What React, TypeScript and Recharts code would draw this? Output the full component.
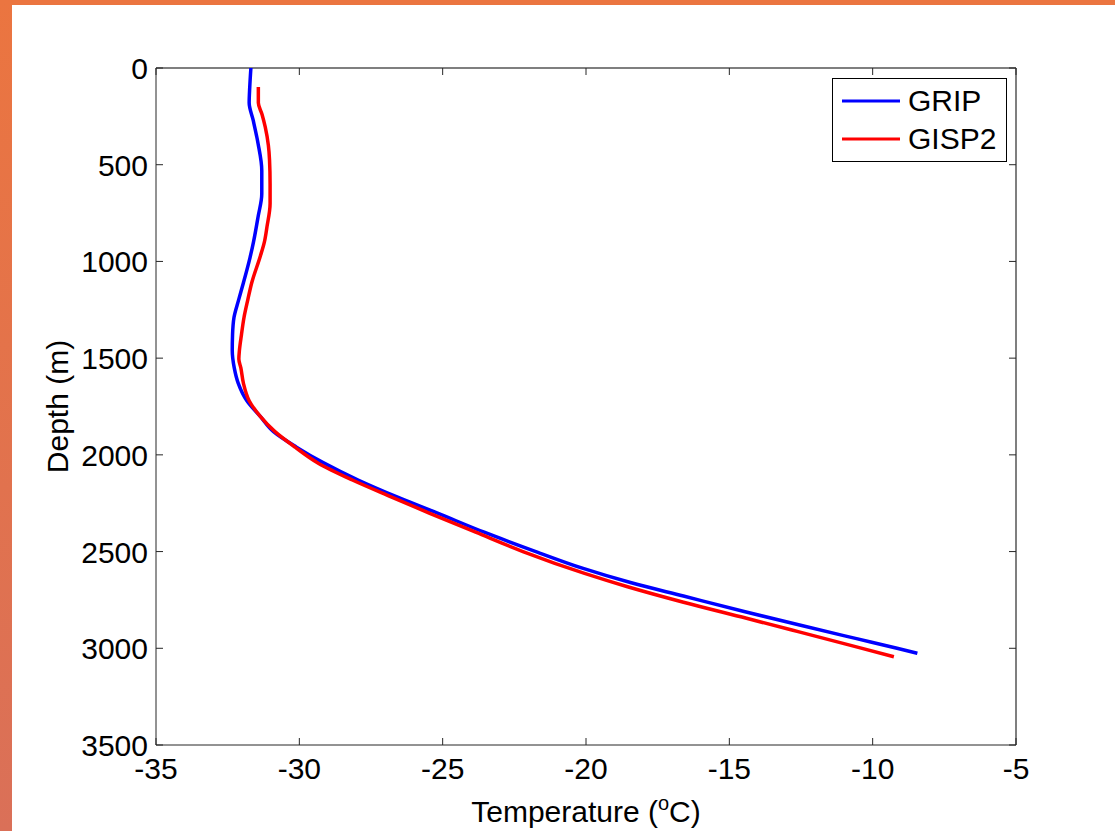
import React from 'react';
import { LineChart, Line, XAxis, YAxis, ReferenceLine } from 'recharts';

// GRIP borehole temperature profile (depth m, temperature °C)
const gripDepth = [0, 100, 180, 270, 390, 530, 650, 770, 900, 980, 1110, 1200, 1290, 1380, 1460, 1550, 1630, 1720, 1800, 1880, 1960, 2040, 2130, 2220, 2300, 2400, 2500, 2587, 2660, 2730, 2811, 2880, 2949, 3000, 3026];
const gripTemp = [-31.69, -31.73, -31.75, -31.61, -31.44, -31.31, -31.31, -31.44, -31.6, -31.72, -31.95, -32.12, -32.28, -32.33, -32.34, -32.27, -32.13, -31.83, -31.37, -30.9, -30.1, -29.17, -27.95, -26.55, -25.2, -23.55, -21.75, -20.1, -18.45, -16.6, -14.45, -12.55, -10.6, -9.15, -8.44];

// GISP2 borehole temperature profile
const gisp2Depth = [98, 180, 240, 305, 400, 475, 600, 700, 822, 900, 977, 1110, 1200, 1290, 1380, 1460, 1505, 1550, 1630, 1720, 1800, 1880, 1960, 2043, 2130, 2217, 2302, 2400, 2500, 2613, 2682, 2762, 2845, 2914, 2995, 3044];
const gisp2Temp = [-31.43, -31.43, -31.3, -31.19, -31.08, -31.04, -31.02, -31.02, -31.13, -31.22, -31.37, -31.66, -31.8, -31.93, -32.02, -32.09, -32.11, -32.04, -31.95, -31.75, -31.37, -30.85, -30.15, -29.34, -28.15, -26.8, -25.45, -23.85, -22.2, -20.05, -18.55, -16.6, -14.4, -12.6, -10.5, -9.26];

const seriesNames = ['GRIP', 'GISP2'];
const seriesColors = ['#0000ff', '#ff0000'];

const xTicks = [-35, -30, -25, -20, -15, -10, -5];
const yTicks = [0, 500, 1000, 1500, 2000, 2500, 3000, 3500];

const gripData = gripDepth.map((d, i) => ({ depth: d, temp: gripTemp[i] }));
const gisp2Data = gisp2Depth.map((d, i) => ({ depth: d, temp: gisp2Temp[i] }));

const FONT = '"Liberation Sans", Arial, sans-serif';
const PLOT_TOP = 68;
const PLOT_LEFT = 156;
const PLOT_RIGHT = 1016;
const AXIS = '#262626';

const XTick = (props: any) => {
  const { x, y, payload } = props;
  return (
    <g>
      <line x1={x} x2={x} y1={y} y2={y - 7} stroke={AXIS} />
      <line x1={x} x2={x} y1={PLOT_TOP} y2={PLOT_TOP + 7} stroke={AXIS} />
      <text x={x} y={y + 34} textAnchor="middle" fontSize={30} fontFamily={FONT} fill="#000">
        {payload.value}
      </text>
    </g>
  );
};

const YTick = (props: any) => {
  const { x, y, payload } = props;
  return (
    <g>
      <line x1={x} x2={x + 7} y1={y} y2={y} stroke={AXIS} />
      <line x1={PLOT_RIGHT} x2={PLOT_RIGHT - 7} y1={y} y2={y} stroke={AXIS} />
      <text x={x - 8} y={y + 11} textAnchor="end" fontSize={30} fontFamily={FONT} fill="#000">
        {payload.value}
      </text>
    </g>
  );
};

const XLabel = ({ viewBox }: any) => (
  <text x={viewBox.x + viewBox.width / 2} y={viewBox.y + 77} textAnchor="middle" fontSize={30} fontFamily={FONT} fill="#000">
    Temperature (<tspan dy={-12} fontSize={20}>o</tspan><tspan dy={12}>C)</tspan>
  </text>
);

const YLabel = ({ viewBox }: any) => {
  const x = viewBox.x + 68;
  const y = viewBox.y + viewBox.height / 2;
  return (
    <text x={x} y={y} transform={`rotate(-90, ${x}, ${y})`} textAnchor="middle" fontSize={30} fontFamily={FONT} fill="#000">
      Depth (m)
    </text>
  );
};

const LegendBox = () => (
  <div style={{ position: 'absolute', left: 832, top: 78, border: '1px solid #000', background: '#fff', width: 173, height: 82, fontFamily: FONT, fontSize: 30 }}>
    {seriesNames.map((name, i) => (
      <div key={name} style={{ display: 'flex', alignItems: 'center', height: 38, marginTop: i === 0 ? 3 : 0 }}>
        <svg width={66} height={10} style={{ marginLeft: 9 }}>
          <line x1={0} x2={58} y1={5} y2={5} stroke={seriesColors[i]} strokeWidth={3} />
        </svg>
        <span style={{ lineHeight: '38px' }}>{name}</span>
      </div>
    ))}
  </div>
);

export default function App() {
  return (
    <div style={{ position: 'fixed', left: 0, top: 0, width: 1115, height: 831, background: '#fff', overflow: 'hidden' }}>
      <LineChart layout="vertical" width={1115} height={831} margin={{ top: PLOT_TOP, right: 99, bottom: 0, left: 0 }}>
        <XAxis
          type="number"
          dataKey="temp"
          domain={[-35, -5]}
          ticks={xTicks}
          interval={0}
          height={86}
          tickSize={0}
          tickMargin={0}
          tickLine={false}
          tick={<XTick />}
          axisLine={{ stroke: AXIS }}
          label={<XLabel />}
        />
        <YAxis
          type="number"
          dataKey="depth"
          domain={[0, 3500]}
          ticks={yTicks}
          interval={0}
          width={PLOT_LEFT}
          tickSize={0}
          tickMargin={0}
          tickLine={false}
          tick={<YTick />}
          axisLine={{ stroke: AXIS }}
          label={<YLabel />}
        />
        <ReferenceLine y={0} stroke="#555" strokeWidth={1.5} />
        <ReferenceLine x={-5} stroke="#555" strokeWidth={1.5} />
        <Line
          name={seriesNames[0]}
          data={gripData}
          dataKey="temp"
          type="monotone"
          stroke={seriesColors[0]}
          strokeWidth={3.5}
          dot={false}
          activeDot={false}
          isAnimationActive={false}
        />
        <Line
          name={seriesNames[1]}
          data={gisp2Data}
          dataKey="temp"
          type="monotone"
          stroke={seriesColors[1]}
          strokeWidth={3.5}
          dot={false}
          activeDot={false}
          isAnimationActive={false}
        />
      </LineChart>
      <LegendBox />
      <div style={{ position: 'absolute', left: 0, top: 0, width: 1115, height: 5, background: '#EB7540' }} />
      <div style={{ position: 'absolute', left: 0, top: 0, width: 12, height: 831, background: 'linear-gradient(#EB7540, #DA7058)' }} />
    </div>
  );
}
